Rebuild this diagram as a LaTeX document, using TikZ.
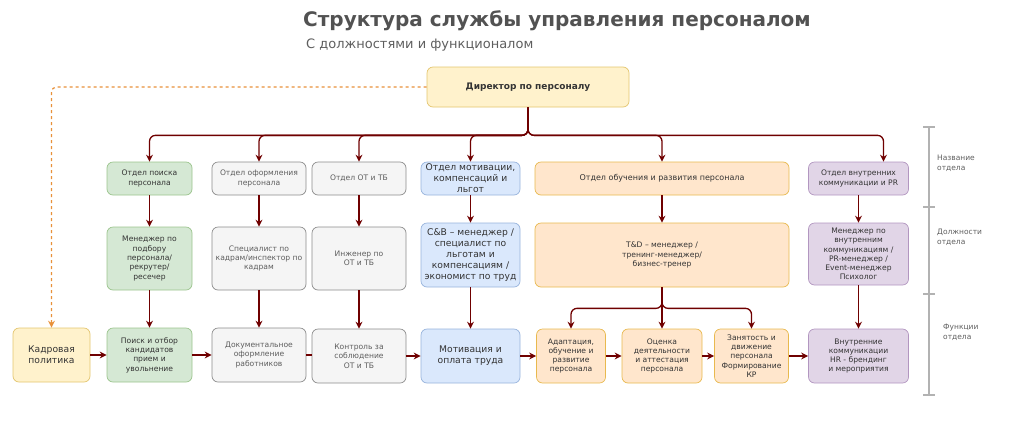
\documentclass[tikz,border=0pt]{standalone}
\usepackage{fontspec}
\setmainfont{DejaVu Sans}
\usepackage{xcolor}
\usepackage{tikz}
\usetikzlibrary{arrows.meta}
\definecolor{linkred}{HTML}{6F0000}
\definecolor{dashorange}{HTML}{E8913A}
\definecolor{textdark}{HTML}{333333}
\definecolor{textgray}{HTML}{5E5E5E}
\definecolor{yellowfill}{HTML}{FFF2CC}
\definecolor{yellowline}{HTML}{E3C56E}
\definecolor{greenfill}{HTML}{D5E8D4}
\definecolor{greenline}{HTML}{9BC48D}
\definecolor{grayfill}{HTML}{F5F5F5}
\definecolor{grayline}{HTML}{8C8C8C}
\definecolor{bluefill}{HTML}{DAE8FC}
\definecolor{blueline}{HTML}{97B3DC}
\definecolor{orangefill}{HTML}{FFE6CC}
\definecolor{orangeline}{HTML}{E8B94E}
\definecolor{purplefill}{HTML}{E1D5E7}
\definecolor{purpleline}{HTML}{B296C0}
\tikzstyle{tsBox} = [
    rectangle,
    rounded corners=6pt,
    line width=0.7pt,
    align=center,
    inner sep=1pt,
    text=textdark,
    font=\fontsize{7.6}{9.3}\selectfont
]
\tikzstyle{tsBig} = [
    font=\fontsize{9.2}{11}\selectfont
]
\tikzstyle{tsYellow} = [tsBox, fill=yellowfill, draw=yellowline]
\tikzstyle{tsGreen} = [tsBox, fill=greenfill, draw=greenline]
\tikzstyle{tsGray} = [tsBox, fill=grayfill, draw=grayline, text=textgray]
\tikzstyle{tsBlue} = [tsBox, fill=bluefill, draw=blueline]
\tikzstyle{tsOrange} = [tsBox, fill=orangefill, draw=orangeline]
\tikzstyle{tsPurple} = [tsBox, fill=purplefill, draw=purpleline]
\tikzstyle{tsLink} = [
    draw=linkred,
    line width=1.3pt,
    rounded corners=6pt,
    -{Stealth[length=7pt,width=7pt]}
]
\tikzstyle{tsScaleText} = [
    text=textgray,
    anchor=north west,
    align=left,
    inner sep=0pt,
    font=\fontsize{7.5}{10}\selectfont
]

\begin{document}
\begin{tikzpicture}[x=1pt, y=-1pt]

        \useasboundingbox (0,0) rectangle (1024,429);

        \node[text=textdark!85, font=\bfseries\fontsize{20}{23}\selectfont] (title) at (557,21) {Структура службы управления персоналом};
        \node[text=textgray, anchor=west, inner sep=0pt, font=\fontsize{13}{15}\selectfont] (subtitle) at (306,45) {С должностями и функционалом};

        \node[tsYellow, minimum width=202pt, minimum height=40pt, font=\bfseries\fontsize{9}{11}\selectfont] (dir) at (528,87) {Директор по персоналу};

        % departments
        \node[tsGreen, minimum width=85pt, minimum height=33pt] (depSearch) at (149.5,178.5) {Отдел поиска\\персонала};
        \node[tsGray, minimum width=94pt, minimum height=33pt] (depDocs) at (259,178.5) {Отдел оформления\\персонала};
        \node[tsGray, minimum width=94pt, minimum height=33pt] (depSafety) at (359,178.5) {Отдел ОТ и ТБ};
        \node[tsBlue, tsBig, minimum width=99pt, minimum height=33pt] (depMotiv) at (470.5,178.5) {Отдел мотивации,\\компенсаций и\\льгот};
        \node[tsOrange, minimum width=254pt, minimum height=33pt, font=\fontsize{8}{9.5}\selectfont] (depTrain) at (662,178.5) {Отдел обучения и развития персонала};
        \node[tsPurple, minimum width=100pt, minimum height=33pt] (depPR) at (858.5,178.5) {Отдел внутренних\\коммуникации и PR};

        % positions
        \node[tsGreen, minimum width=85pt, minimum height=63pt] (posSearch) at (149.5,258.5) {Менеджер по\\подбору\\персонала/\\рекрутер/\\ресечер};
        \node[tsGray, minimum width=94pt, minimum height=63pt] (posDocs) at (259,258.5) {Специалист по\\кадрам/инспектор по\\кадрам};
        \node[tsGray, minimum width=94pt, minimum height=63pt] (posSafety) at (359,258.5) {Инженер по\\ОТ и ТБ};
        \node[tsBlue, tsBig, minimum width=99pt, minimum height=64pt] (posMotiv) at (470.5,255) {C\&B – менеджер /\\специалист по\\льготам и\\компенсациям /\\экономист по труд};
        \node[tsOrange, minimum width=254pt, minimum height=64pt] (posTrain) at (662,255) {T\&D – менеджер /\\тренинг-менеджер/\\бизнес-тренер};
        \node[tsPurple, minimum width=100pt, minimum height=62pt] (posPR) at (858.5,254) {Менеджер по\\внутренним\\коммуникациям /\\PR-менеджер /\\Event-менеджер\\Психолог};

        % functions
        \node[tsYellow, tsBig, minimum width=77pt, minimum height=54pt] (funPolicy) at (51.5,355) {Кадровая\\политика};
        \node[tsGreen, minimum width=85pt, minimum height=54pt] (funSearch) at (149.5,355) {Поиск и отбор\\кандидатов\\прием и\\увольнение};
        \node[tsGray, minimum width=94pt, minimum height=54pt] (funDocs) at (259,355) {Документальное\\оформление\\работников};
        \node[tsGray, minimum width=94pt, minimum height=54pt] (funSafety) at (359,356) {Контроль за\\соблюдение\\ОТ и ТБ};
        \node[tsBlue, tsBig, minimum width=99pt, minimum height=54pt] (funMotiv) at (470.5,356) {Мотивация и\\оплата труда};
        \node[tsOrange, minimum width=69pt, minimum height=54pt] (funAdapt) at (571,356) {Адаптация,\\обучение и\\развитие\\персонала};
        \node[tsOrange, minimum width=80pt, minimum height=54pt] (funAssess) at (662,356) {Оценка\\деятельности\\и аттестация\\персонала};
        \node[tsOrange, minimum width=74pt, minimum height=54pt] (funMove) at (751.5,356) {Занятость и\\движение\\персонала\\Формирование\\КР};
        \node[tsPurple, minimum width=100pt, minimum height=54pt] (funPR) at (858.5,356) {Внутренние\\коммуникации\\HR - брендинг\\и мероприятия};

        % director -> departments
        \draw[tsLink] (dir.south) -- ++(0,28) -| (depSearch.north);
        \draw[tsLink] (dir.south) -- ++(0,28) -| (depDocs.north);
        \draw[tsLink] (dir.south) -- ++(0,28) -| (depSafety.north);
        \draw[tsLink] (dir.south) -- ++(0,28) -| (depMotiv.north);
        \draw[tsLink] (dir.south) -- ++(0,28) -| (depTrain.north);
        \draw[tsLink] (dir.south) -- ++(0,28) -| ([xshift=25pt]depPR.north);

        \draw[draw=dashorange, line width=1.2pt, dashed, rounded corners=5pt, -{Stealth[length=7pt,width=7pt]}] (dir.west) -| (funPolicy.north);

        \draw[tsLink] (depSearch) -- (posSearch);
        \draw[tsLink] (depDocs) -- (posDocs);
        \draw[tsLink] (depSafety) -- (posSafety);
        \draw[tsLink] (depMotiv) -- (posMotiv);
        \draw[tsLink] (depTrain) -- (posTrain);
        \draw[tsLink] (depPR) -- (posPR);

        \draw[tsLink] (posSearch) -- (funSearch);
        \draw[tsLink] (posDocs) -- (funDocs);
        \draw[tsLink] (posSafety) -- (funSafety);
        \draw[tsLink] (posMotiv) -- (funMotiv);
        \draw[tsLink] (posTrain.south) -- ++(0,21) -| (funAdapt.north);
        \draw[tsLink] (posTrain) -- (funAssess);
        \draw[tsLink] (posTrain.south) -- ++(0,21) -| (funMove.north);
        \draw[tsLink] (posPR) -- (funPR);

        \draw[tsLink] (funPolicy.east) -- (funPolicy.east -| funSearch.west);
        \draw[tsLink] (funSearch.east) -- (funSearch.east -| funDocs.west);
        \draw[tsLink, -] (funDocs.east) -- (funDocs.east -| funSafety.west);
        \draw[tsLink] (funSafety.east) -- (funSafety.east -| funMotiv.west);
        \draw[tsLink] (funMotiv.east) -- (funMotiv.east -| funAdapt.west);
        \draw[tsLink] (funAdapt.east) -- (funAdapt.east -| funAssess.west);
        \draw[tsLink] (funAssess.east) -- (funAssess.east -| funMove.west);
        \draw[tsLink] (funMove.east) -- (funMove.east -| funPR.west);

        % scale on the right
        \draw[gray!60, line width=1.3pt] (929,127) -- (929,395);
        \draw[gray!60, line width=1.3pt] (923,127) -- (935,127);
        \draw[gray!60, line width=1.3pt] (923,207) -- (935,207);
        \draw[gray!60, line width=1.3pt] (923,294) -- (935,294);
        \draw[gray!60, line width=1.3pt] (923,395) -- (935,395);

        \node[tsScaleText] (lblName) at (937,155) {Название\\отдела};
        \node[tsScaleText] (lblPos) at (937,229) {Должности\\отдела};
        \node[tsScaleText] (lblFun) at (943,324) {Функции\\отдела};

\end{tikzpicture}
\end{document}
